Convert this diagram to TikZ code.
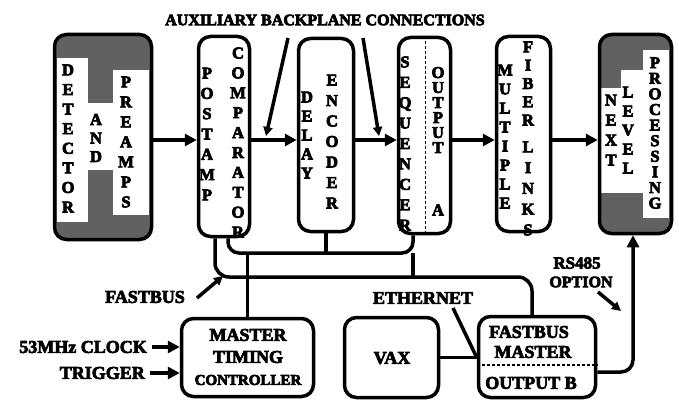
\documentclass[tikz,border=0pt]{standalone}
\usepackage{fontspec}
\setmainfont{Liberation Serif}
\usetikzlibrary{arrows.meta,calc}
\newcommand\heavyink{\special{pdf:literal direct 2 Tr 0.7 w}}
\begin{document}
\begin{tikzpicture}[x=1pt,y=-1pt,
  box/.style={draw, line width=3.5pt, rounded corners=12pt, inner sep=0pt},
  vt/.style={align=center, inner sep=0pt, font=\fontsize{16.5}{#1}\selectfont\bfseries\heavyink},
  lab/.style={inner sep=0pt, font=\fontsize{18}{20}\selectfont\bfseries\heavyink},
  wire/.style={line width=3.5pt},
  arr/.style={line width=3.5pt, -{Triangle[length=12pt,width=12pt]}},
  sarr/.style={line width=3.5pt, -{Triangle[length=9pt,width=9pt]}},
  halftone/.style={fill=black!62},
  dsh/.style={line width=1.6pt, dash pattern=on 3pt off 2pt}
]
\useasboundingbox (0,0) rectangle (679,401);

% shading of the two end boxes
\fill[halftone, rounded corners=12pt] (54.5,34.5) rectangle (151.5,239.5);
\fill[white] (57,58) rectangle (88,222);
\fill[white] (88,103) rectangle (113,170);
\fill[white] (113,70) rectangle (149,215);
\fill[halftone, rounded corners=12pt] (599.5,34.5) rectangle (671.5,233.5);
\fill[white] (601,88) rectangle (621,193);
\fill[white] (621,70) rectangle (643,193);
\fill[white] (643,50) rectangle (669,218);

% boxes
\node[box, minimum width=97pt, minimum height=205pt] (det) at (103,137) {};
\node[box, minimum width=51pt, minimum height=200pt] (post) at (224,136.5) {};
\node[box, minimum width=55pt, minimum height=193pt] (delay) at (326,135) {};
\node[box, minimum width=52pt, minimum height=196pt] (seq) at (424.5,135.5) {};
\node[box, minimum width=54pt, minimum height=195pt] (mult) at (523.5,134) {};
\node[box, minimum width=72pt, minimum height=199pt] (next) at (635.5,134) {};
\node[box, minimum width=132pt, minimum height=78pt] (mtc) at (247.5,357.5) {};
\node[box, minimum width=94pt, minimum height=80pt] (vax) at (391.5,357.5) {};
\node[box, minimum width=117pt, minimum height=81pt] (fbm) at (537,357) {};

% vertical texts
\node[vt=19.6] (tdet) at (68,138.5) {D\\E\\T\\E\\C\\T\\O\\R};
\node[vt=18.5] (tand) at (96,138) {A\\N\\D};
\node[vt=20] (tpre) at (126,142) {P\\R\\E\\A\\M\\P\\S};
\node[vt=20.3] (tpost) at (207,134) {P\\O\\S\\T\\A\\M\\P};
\node[vt=19.9] (tcomp) at (238,142.5) {C\\O\\M\\P\\A\\R\\A\\T\\O\\R};
\node[vt=19] (tdel) at (307,135) {D\\E\\L\\A\\Y};
\node[vt=20.5] (tenc) at (332,141.5) {E\\N\\C\\O\\D\\E\\R};
\node[vt=20.4] (tseq) at (405,143.5) {S\\E\\Q\\U\\E\\N\\C\\E\\R};
\node[vt=15] (tout) at (438,110) {O\\U\\T\\P\\U\\T};
\node[vt=15] (ta) at (438,210) {A};
\node[vt=19] (tmul) at (505,136.5) {M\\U\\L\\T\\I\\P\\L\\E};
\node[vt=18.3] (tfib) at (528,83.5) {F\\I\\B\\E\\R};
\node[vt=20.75] (tlnk) at (528,188.5) {L\\I\\N\\K\\S};
\node[vt=20] (tnext) at (611,130) {N\\E\\X\\T};
\node[vt=19] (tlev) at (628,130) {L\\E\\V\\E\\L};
\node[vt=15.6] (tproc) at (655,133) {P\\R\\O\\C\\E\\S\\S\\I\\N\\G};

\draw[dsh] ([xshift=1pt]seq.north) -- ([xshift=1pt]seq.south);
\coordinate (dl) at (0,365);
\draw[dsh] (fbm.west |- dl) -- (fbm.east |- dl);

% top row arrows
\coordinate (ay) at (0,140);
\draw[arr] (det.east |- ay) -- (post.west |- ay);
\draw[arr] (post.east |- ay) -- (delay.west |- ay);
\draw[arr] (delay.east |- ay) -- (seq.west |- ay);
\draw[arr] (seq.east |- ay) -- (mult.west |- ay);
\draw[arr] (mult.east |- ay) -- (next.west |- ay);

% title and backplane arrows
\node[lab, font=\fontsize{16}{18}\selectfont\bfseries\heavyink] (title) at (325,20) {AUXILIARY BACKPLANE CONNECTIONS};
\coordinate (b1s) at (288,38);
\coordinate (b1e) at (266,136);
\coordinate (b2s) at (363,38);
\coordinate (b2e) at (379,136);
\draw[sarr] (b1s) -- (b1e);
\draw[sarr] (b2s) -- (b2e);

% buses
\coordinate (lowbus) at (300,277);
\coordinate (upbus) at (320,253);
\coordinate (sq) at ([xshift=-11.5pt]seq.south);
\draw[wire, rounded corners=14pt] ([xshift=-9pt]post.south) |- (lowbus) -| ([xshift=-5pt]fbm.north);
\draw[wire, rounded corners=11pt] ([xshift=4pt]post.south) |- (upbus) -| (sq);
\draw[wire] (delay.south) -- (delay.south |- upbus);
\draw[wire] (sq |- upbus) -- (sq |- lowbus);
\draw[wire] (mtc.north |- upbus) -- (mtc.north);

% bottom texts
\node[lab] (mt1) at (248,335) {MASTER};
\node[lab] (mt2) at (248,357) {TIMING};
\node[lab, font=\fontsize{15}{17}\selectfont\bfseries\heavyink] (mt3) at (248,380) {CONTROLLER};
\node[lab] (vaxt) at (392,358) {VAX};
\node[lab] (fb1) at (529,332) {FASTBUS};
\node[lab] (fb2) at (533,352) {MASTER};
\node[lab] (fb3) at (531,383) {OUTPUT B};

% labels and arrows
\node[lab] (fbl) at (145,297) {FASTBUS};
\coordinate (fa1) at (197,298);
\coordinate (fa2) at (223,276);
\draw[sarr] (fa1) -- (fa2);

\node[lab, anchor=east] (clk) at (147,347) {53MHz CLOCK};
\node[lab, anchor=east] (trg) at (145,373) {TRIGGER};
\draw[arr] ([xshift=5pt]clk.east) -- (mtc.west |- clk.east);
\draw[arr] ([xshift=5pt]trg.east) -- (mtc.west |- trg.east);

\node[lab] (eth) at (423,298) {ETHERNET};
\coordinate (e1) at (453,308);
\draw[wire] (e1) -- (fbm.west |- vax.east);
\draw[wire] (vax.east) -- (fbm.west |- vax.east);

\node[lab, font=\fontsize{17}{19}\selectfont\bfseries\heavyink] (rs) at (577,263) {RS485};
\node[lab, font=\fontsize{16}{18}\selectfont\bfseries\heavyink] (opt) at (581,282) {OPTION};
\coordinate (r1) at (598,292);
\coordinate (r2) at (621,311);
\draw[sarr] (r1) -- (r2);

\coordinate (ob) at (0,372);
\draw[arr, rounded corners=12pt] (fbm.east |- ob) -| ([xshift=-2.5pt]next.south);
\end{tikzpicture}
\end{document}
